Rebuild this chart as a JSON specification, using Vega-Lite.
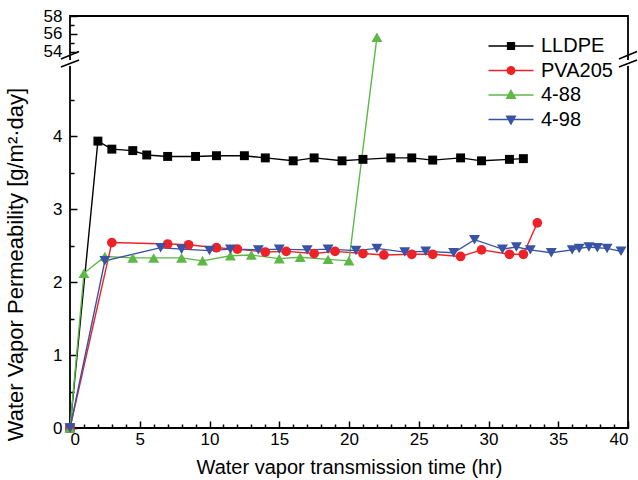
{
  "$schema": "https://vega.github.io/schema/vega-lite/v6.json",
  "width": 558,
  "height": 412,
  "autosize": {"type": "none"},
  "padding": {"left": 70, "top": 16, "right": 10, "bottom": 52},
  "background": "white",
  "config": {
    "font": "Liberation Sans",
    "view": {"stroke": "black", "strokeWidth": 1.8},
    "axis": {
      "domain": false,
      "grid": false,
      "labelFont": "Liberation Sans",
      "labelFontSize": 17,
      "labelColor": "black",
      "titleFont": "Liberation Sans",
      "titleFontSize": 20,
      "titleFontWeight": "normal",
      "titleColor": "black",
      "tickColor": "black",
      "tickWidth": 1.5
    },
    "legend": {
      "orient": "none",
      "legendX": 429,
      "legendY": 18,
      "padding": 0,
      "title": null,
      "labelFont": "Liberation Sans",
      "labelFontSize": 20,
      "labelColor": "black",
      "symbolSize": 506,
      "symbolStrokeWidth": 1.5,
      "symbolOpacity": 1,
      "labelOffset": 18,
      "rowPadding": 2.5
    }
  },
  "data": {
    "values": [
      {"series": "LLDPE", "time": 0, "wvp": 0},
      {"series": "LLDPE", "time": 2, "wvp": 3.93},
      {"series": "LLDPE", "time": 3, "wvp": 3.82},
      {"series": "LLDPE", "time": 4.5, "wvp": 3.8},
      {"series": "LLDPE", "time": 5.5, "wvp": 3.74},
      {"series": "LLDPE", "time": 7, "wvp": 3.72},
      {"series": "LLDPE", "time": 9, "wvp": 3.72},
      {"series": "LLDPE", "time": 10.5, "wvp": 3.73},
      {"series": "LLDPE", "time": 12.5, "wvp": 3.73},
      {"series": "LLDPE", "time": 14, "wvp": 3.7},
      {"series": "LLDPE", "time": 16, "wvp": 3.66},
      {"series": "LLDPE", "time": 17.5, "wvp": 3.7},
      {"series": "LLDPE", "time": 19.5, "wvp": 3.66},
      {"series": "LLDPE", "time": 21, "wvp": 3.68},
      {"series": "LLDPE", "time": 23, "wvp": 3.7},
      {"series": "LLDPE", "time": 24.5, "wvp": 3.7},
      {"series": "LLDPE", "time": 26, "wvp": 3.67},
      {"series": "LLDPE", "time": 28, "wvp": 3.7},
      {"series": "LLDPE", "time": 29.5, "wvp": 3.66},
      {"series": "LLDPE", "time": 31.5, "wvp": 3.68},
      {"series": "LLDPE", "time": 32.5, "wvp": 3.69},

      {"series": "PVA205", "time": 0, "wvp": 0},
      {"series": "PVA205", "time": 3, "wvp": 2.54},
      {"series": "PVA205", "time": 7, "wvp": 2.52},
      {"series": "PVA205", "time": 8.5, "wvp": 2.51},
      {"series": "PVA205", "time": 10.5, "wvp": 2.47},
      {"series": "PVA205", "time": 12, "wvp": 2.45},
      {"series": "PVA205", "time": 14, "wvp": 2.41},
      {"series": "PVA205", "time": 15.5, "wvp": 2.42},
      {"series": "PVA205", "time": 17.5, "wvp": 2.39},
      {"series": "PVA205", "time": 19, "wvp": 2.42},
      {"series": "PVA205", "time": 21, "wvp": 2.39},
      {"series": "PVA205", "time": 22.5, "wvp": 2.37},
      {"series": "PVA205", "time": 24.5, "wvp": 2.38},
      {"series": "PVA205", "time": 26, "wvp": 2.38},
      {"series": "PVA205", "time": 28, "wvp": 2.35},
      {"series": "PVA205", "time": 29.5, "wvp": 2.44},
      {"series": "PVA205", "time": 31.5, "wvp": 2.38},
      {"series": "PVA205", "time": 32.5, "wvp": 2.38},
      {"series": "PVA205", "time": 33.5, "wvp": 2.81},

      {"series": "4-88", "time": 0, "wvp": 0},
      {"series": "4-88", "time": 1, "wvp": 2.12},
      {"series": "4-88", "time": 2.5, "wvp": 2.35},
      {"series": "4-88", "time": 4.5, "wvp": 2.33},
      {"series": "4-88", "time": 6, "wvp": 2.33},
      {"series": "4-88", "time": 8, "wvp": 2.33},
      {"series": "4-88", "time": 9.5, "wvp": 2.29},
      {"series": "4-88", "time": 11.5, "wvp": 2.36},
      {"series": "4-88", "time": 13, "wvp": 2.37},
      {"series": "4-88", "time": 15, "wvp": 2.32},
      {"series": "4-88", "time": 16.5, "wvp": 2.34},
      {"series": "4-88", "time": 18.5, "wvp": 2.31},
      {"series": "4-88", "time": 20, "wvp": 2.29},
      {"series": "4-88", "time": 22, "wvp": 55.6},

      {"series": "4-98", "time": 0, "wvp": 0},
      {"series": "4-98", "time": 2.5, "wvp": 2.29},
      {"series": "4-98", "time": 6.5, "wvp": 2.47},
      {"series": "4-98", "time": 8, "wvp": 2.45},
      {"series": "4-98", "time": 10, "wvp": 2.43},
      {"series": "4-98", "time": 11.5, "wvp": 2.45},
      {"series": "4-98", "time": 13.5, "wvp": 2.44},
      {"series": "4-98", "time": 15, "wvp": 2.45},
      {"series": "4-98", "time": 17, "wvp": 2.44},
      {"series": "4-98", "time": 18.5, "wvp": 2.45},
      {"series": "4-98", "time": 20.5, "wvp": 2.43},
      {"series": "4-98", "time": 22, "wvp": 2.46},
      {"series": "4-98", "time": 24, "wvp": 2.41},
      {"series": "4-98", "time": 25.5, "wvp": 2.42},
      {"series": "4-98", "time": 27.5, "wvp": 2.4},
      {"series": "4-98", "time": 29, "wvp": 2.58},
      {"series": "4-98", "time": 31, "wvp": 2.45},
      {"series": "4-98", "time": 32, "wvp": 2.48},
      {"series": "4-98", "time": 33, "wvp": 2.44},
      {"series": "4-98", "time": 34.5, "wvp": 2.4},
      {"series": "4-98", "time": 36, "wvp": 2.44},
      {"series": "4-98", "time": 36.5, "wvp": 2.46},
      {"series": "4-98", "time": 37.2, "wvp": 2.48},
      {"series": "4-98", "time": 37.8, "wvp": 2.47},
      {"series": "4-98", "time": 38.5, "wvp": 2.46},
      {"series": "4-98", "time": 39.5, "wvp": 2.42}
    ]
  },
  "layer": [
    {
      "mark": {"type": "line", "strokeWidth": 1.4},
      "encoding": {
        "x": {
          "field": "time",
          "type": "quantitative",
          "scale": {"domain": [0, 40], "nice": false, "zero": false},
          "axis": {
            "orient": "bottom",
            "values": [0, 5, 10, 15, 20, 25, 30, 35, 40],
            "tickSize": -7,
            "labelPadding": 10,
            "title": "Water vapor transmission time (hr)",
            "titleY": 29
          }
        },
        "y": {
          "field": "wvp",
          "type": "quantitative",
          "scale": {"domain": [0, 5, 53.5, 58], "range": [412, 47, 40, 0], "nice": false, "zero": false},
          "axis": {
            "orient": "left",
            "values": [0, 1, 2, 3, 4, 54, 56, 58],
            "tickSize": -7,
            "labelPadding": 15,
            "title": "Water Vapor Permeability [g/m²·day]",
            "titleFontSize": 22,
            "titleX": -43,
            "titleY": 248
          }
        },
        "stroke": {
          "field": "series",
          "type": "nominal",
          "scale": {
            "domain": ["LLDPE", "PVA205", "4-88", "4-98"],
            "range": ["#000000", "#ED2229", "#5DB847", "#3953A4"]
          }
        }
      }
    },
    {
      "mark": {"type": "point", "filled": true, "opacity": 1, "strokeWidth": 0},
      "encoding": {
        "x": {
          "field": "time",
          "type": "quantitative",
          "axis": {
            "orient": "bottom",
            "values": [1, 2, 3, 4, 6, 7, 8, 9, 11, 12, 13, 14, 16, 17, 18, 19, 21, 22, 23, 24, 26, 27, 28, 29, 31, 32, 33, 34, 36, 37, 38, 39],
            "tickSize": -4,
            "labels": false,
            "title": null
          }
        },
        "y": {
          "field": "wvp",
          "type": "quantitative",
          "axis": {
            "orient": "left",
            "values": [0.5, 1.5, 2.5, 3.5, 4.5, 55, 57],
            "tickSize": -4,
            "labels": false,
            "title": null
          }
        },
        "fill": {
          "field": "series",
          "type": "nominal",
          "scale": {
            "domain": ["LLDPE", "PVA205", "4-88", "4-98"],
            "range": ["#000000", "#ED2229", "#5DB847", "#3953A4"]
          }
        },
        "shape": {
          "condition": [
            {"test": "datum.series === 'LLDPE'", "value": "square"},
            {"test": "datum.series === 'PVA205'", "value": "circle"},
            {"test": "datum.series === '4-88'", "value": "triangle-up"}
          ],
          "value": "triangle-down"
        },
        "size": {
          "condition": [
            {"test": "datum.series === 'LLDPE'", "value": 80},
            {"test": "datum.series === 'PVA205'", "value": 95}
          ],
          "value": 120
        }
      }
    },
    {
      "mark": {"type": "point", "filled": true, "opacity": 0, "size": 10},
      "encoding": {
        "x": {"field": "time", "type": "quantitative", "axis": null},
        "y": {"field": "wvp", "type": "quantitative", "axis": null},
        "fill": {"field": "series", "type": "nominal"},
        "stroke": {"field": "series", "type": "nominal"},
        "shape": {
          "field": "series",
          "type": "nominal",
          "scale": {
            "domain": ["LLDPE", "PVA205", "4-88", "4-98"],
            "range": [
              "M-2,0H2M-0.3,-0.3H0.3V0.3H-0.3Z",
              "M-2,0H2M-0.33,0A0.33,0.33,0,1,0,0.33,0A0.33,0.33,0,1,0,-0.33,0Z",
              "M-2,0H2M0,-0.4L0.38,0.28H-0.38Z",
              "M-2,0H2M0,0.4L0.38,-0.28H-0.38Z"
            ]
          }
        }
      }
    },
    {
      "data": {"values": [{}]},
      "mark": {"type": "rule", "color": "white", "strokeWidth": 5},
      "encoding": {
        "x": {"datum": 0, "type": "quantitative", "axis": null},
        "y": {"datum": 4.96, "type": "quantitative", "axis": null},
        "y2": {"datum": 25.8}
      }
    },
    {
      "data": {"values": [{}]},
      "mark": {"type": "rule", "color": "white", "strokeWidth": 5},
      "encoding": {
        "x": {"datum": 40, "type": "quantitative", "axis": null},
        "y": {"datum": 4.96, "type": "quantitative", "axis": null},
        "y2": {"datum": 25.8}
      }
    },
    {
      "data": {"values": [{}]},
      "mark": {"type": "rule", "color": "black", "strokeWidth": 1.5},
      "encoding": {
        "x": {"datum": -0.65, "type": "quantitative", "axis": null},
        "x2": {"datum": 0.65},
        "y": {"datum": 32.7, "type": "quantitative", "axis": null},
        "y2": {"datum": 54.0}
      }
    },
    {
      "data": {"values": [{}]},
      "mark": {"type": "rule", "color": "black", "strokeWidth": 1.5},
      "encoding": {
        "x": {"datum": -0.65, "type": "quantitative", "axis": null},
        "x2": {"datum": 0.65},
        "y": {"datum": 4.945, "type": "quantitative", "axis": null},
        "y2": {"datum": 25.8}
      }
    },
    {
      "data": {"values": [{}]},
      "mark": {"type": "rule", "color": "black", "strokeWidth": 1.5},
      "encoding": {
        "x": {"datum": 39.35, "type": "quantitative", "axis": null},
        "x2": {"datum": 40.65},
        "y": {"datum": 32.7, "type": "quantitative", "axis": null},
        "y2": {"datum": 54.0}
      }
    },
    {
      "data": {"values": [{}]},
      "mark": {"type": "rule", "color": "black", "strokeWidth": 1.5},
      "encoding": {
        "x": {"datum": 39.35, "type": "quantitative", "axis": null},
        "x2": {"datum": 40.65},
        "y": {"datum": 4.945, "type": "quantitative", "axis": null},
        "y2": {"datum": 25.8}
      }
    }
  ],
  "resolve": {"axis": {"x": "independent", "y": "independent"}}
}
